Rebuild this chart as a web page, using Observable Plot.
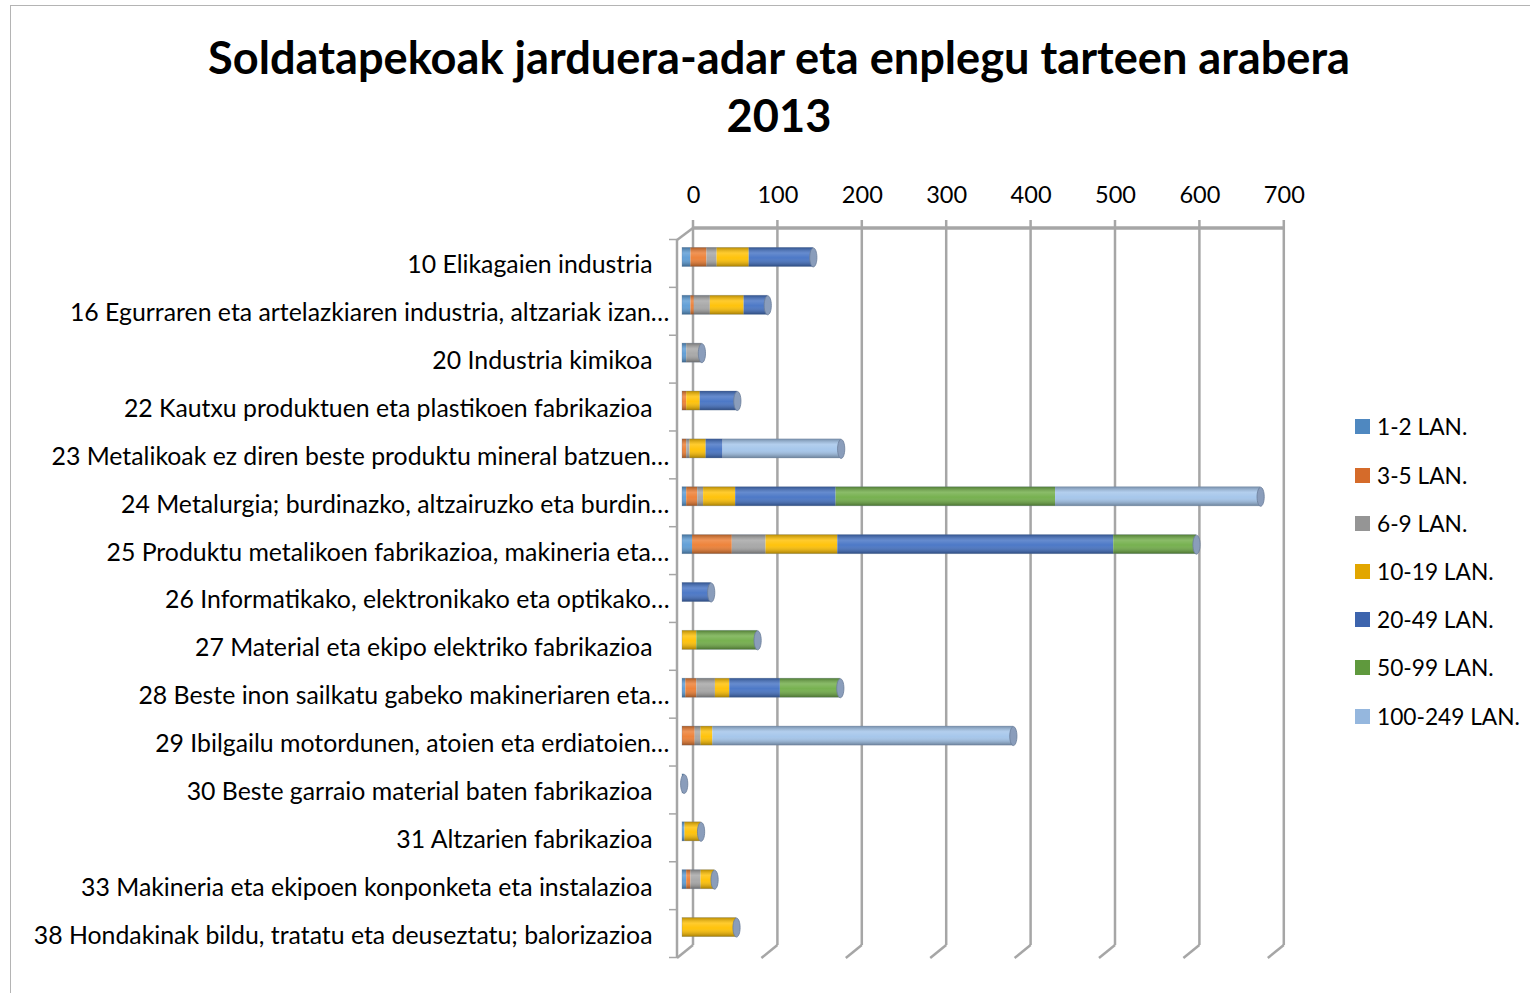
<!DOCTYPE html>
<html>
<head>
<meta charset="utf-8">
<script src="https://cdn.jsdelivr.net/npm/d3@7"></script>
<script src="https://cdn.jsdelivr.net/npm/@observablehq/plot@0.6"></script>
<style>
  html, body { margin: 0; padding: 0; background: #fff; }
  #wrap { position: relative; width: 1530px; height: 993px; overflow: hidden; font-family: Lato, "Open Sans", sans-serif; }
  #border { position: absolute; left: 10px; top: 5px; width: 1600px; height: 1100px; border: 1px solid #b4b4b4; box-sizing: border-box; }
  .title { position: absolute; left: 779px; transform: translateX(-50%); white-space: nowrap; font-weight: 700; color: #000; line-height: 1; }
  #chart { position: absolute; left: 0; top: 170px; }
  #legend { position: absolute; left: 1355px; top: 0; }
  .li { position: absolute; left: 0; white-space: nowrap; display: flex; align-items: center; color: #000; }
  .sw { width: 15px; height: 15px; margin-right: 7px; flex: none; }
</style>
</head>
<body>
<svg width="0" height="0" style="position:absolute">
  <defs>
    <linearGradient id="cyl" x1="0" y1="0" x2="0" y2="1">
      <stop offset="0" stop-color="#000" stop-opacity="0.28"/>
      <stop offset="0.3" stop-color="#fff" stop-opacity="0.18"/>
      <stop offset="0.55" stop-color="#fff" stop-opacity="0.05"/>
      <stop offset="1" stop-color="#000" stop-opacity="0.35"/>
    </linearGradient>
  </defs>
</svg>
<div id="wrap">
  <div id="border"></div>
  <div class="title" id="t1">Soldatapekoak jarduera-adar eta enplegu tarteen arabera</div>
  <div class="title" id="t2">2013</div>
  <div id="chart"></div>
  <div id="legend"></div>
</div>
<script>
// ---- data ----
const categories = [
  "10 Elikagaien industria",
  "16 Egurraren eta artelazkiaren industria, altzariak izan…",
  "20 Industria kimikoa",
  "22 Kautxu produktuen eta plastikoen fabrikazioa",
  "23 Metalikoak ez diren beste produktu mineral batzuen…",
  "24 Metalurgia; burdinazko, altzairuzko eta burdin…",
  "25 Produktu metalikoen fabrikazioa, makineria eta…",
  "26 Informatikako, elektronikako eta optikako…",
  "27 Material eta ekipo elektriko fabrikazioa",
  "28 Beste inon sailkatu gabeko makineriaren eta…",
  "29 Ibilgailu motordunen, atoien eta erdiatoien…",
  "30 Beste garraio material baten fabrikazioa",
  "31 Altzarien fabrikazioa",
  "33 Makineria eta ekipoen konponketa eta instalazioa",
  "38 Hondakinak bildu, tratatu eta deuseztatu; balorizazioa"
];
const series = ["1-2 LAN.", "3-5 LAN.", "6-9 LAN.", "10-19 LAN.", "20-49 LAN.", "50-99 LAN.", "100-249 LAN."];
const lan1_2    = [10, 10, 5, 0, 0, 5, 12, 0, 0, 4, 0, 2, 3, 5, 0];
const lan3_5    = [19, 4, 0, 5, 5, 13, 47, 0, 0, 13, 15, 0, 0, 5, 0];
const lan6_9    = [12, 19, 18, 0, 4, 7, 40, 0, 0, 22, 7, 0, 0, 12, 0];
const lan10_19  = [38, 40, 0, 16, 19, 38, 85, 0, 17, 17, 14, 0, 19, 16, 64];
const lan20_49  = [76, 28, 0, 44, 20, 119, 327, 34, 0, 60, 0, 0, 0, 0, 0];
const lan50_99  = [0, 0, 0, 0, 0, 260, 98, 0, 72, 71, 0, 0, 0, 0, 0];
const lan100_249= [0, 0, 0, 0, 140, 243, 0, 0, 0, 0, 356, 0, 0, 0, 0];
const xTicks = [0, 100, 200, 300, 400, 500, 600, 700];

const barColors    = ["#5b9bd5", "#ed7d31", "#a5a5a5", "#ffc000", "#4472c4", "#70ad47", "#a2c4ea"];
const legendColors = ["#4f88c0", "#d56b2a", "#959595", "#e2a600", "#3d64ad", "#5f993d", "#95b7de"];

// ---- build table ----
const seriesValues = [lan1_2, lan3_5, lan6_9, lan10_19, lan20_49, lan50_99, lan100_249];
const rows = [];
categories.forEach((c, i) => series.forEach((s, j) => rows.push({cat: c, series: s, value: seriesValues[j][i]})));
const totals = categories.map((c, i) => ({cat: c, total: d3.sum(seriesValues, v => v[i])}));

// ---- font fitting ----
const FONT = "Lato";
const ctx = document.createElement("canvas").getContext("2d");
function fit(text, weight, target) { ctx.font = `${weight} 100px ${FONT}`; return 100 * target / ctx.measureText(text).width; }
const fsLabel = fit(categories[14], 400, 619);
const fsTitle = fit("Soldatapekoak jarduera-adar eta enplegu tarteen arabera", 700, 1143);
const fsLegend = fit("100-249 LAN.", 400, 143);
const fsTick = fit("700", 400, 41);

const t1 = document.getElementById("t1"), t2 = document.getElementById("t2");
t1.style.fontSize = fsTitle + "px"; t2.style.fontSize = fsTitle + "px";
t1.style.top = (57 - fsTitle / 2) + "px"; t2.style.top = (115 - fsTitle / 2) + "px";

// elliptical cap symbol for cylinder ends
const capSymbol = {
  draw(context, size) {
    const rx = 3.6, ry = 9.5, k = 0.5523;
    context.moveTo(rx, 0);
    context.bezierCurveTo(rx, ry * k, rx * k, ry, 0, ry);
    context.bezierCurveTo(-rx * k, ry, -rx, ry * k, -rx, 0);
    context.bezierCurveTo(-rx, -ry * k, -rx * k, -ry, 0, -ry);
    context.bezierCurveTo(rx * k, -ry, rx, -ry * k, rx, 0);
    context.closePath();
  }
};

// ---- plot ----
const W = 1530, H = 800, ML = 682, MR = 1530 - 1272.8, MT = 71, MB = 11;
const inset = 14.4, barDy = -8;
const isTrunc = d => d.endsWith("…");
const plot = Plot.plot({
  width: W, height: H,
  marginLeft: ML, marginRight: MR, marginTop: MT, marginBottom: MB,
  x: {domain: [0, 700], axis: null},
  y: {domain: categories, axis: null, padding: 0, round: false},
  color: {domain: series, range: barColors},
  style: {fontFamily: FONT, background: "transparent", overflow: "visible", color: "#000"},
  marks: [
    Plot.text(xTicks, {x: d => d, text: d => String(d), frameAnchor: "top", lineAnchor: "middle", dy: -46, dx: 11, fontSize: fsTick, fill: "#000"}),
    Plot.text(categories.filter(d => !isTrunc(d)), {y: d => d, text: d => d, frameAnchor: "left", lineAnchor: "middle", textAnchor: "end", dx: -30, fontSize: fsLabel, fill: "#000"}),
    Plot.text(categories.filter(isTrunc), {y: d => d, text: d => d, frameAnchor: "left", lineAnchor: "middle", textAnchor: "end", dx: -13, fontSize: fsLabel, fill: "#000"}),
    Plot.barX(rows, Plot.stackX({y: "cat", x: "value", fill: "series", insetTop: inset, insetBottom: inset, dy: barDy})),
    Plot.barX(totals, {y: "cat", x: "total", fill: "url(#cyl)", stroke: "#6d7f99", strokeOpacity: 0.35, strokeWidth: 0.8, insetTop: inset, insetBottom: inset, dy: barDy}),
    Plot.dot(totals, {y: "cat", x: "total", symbol: capSymbol, r: 5, fill: "#8a9dbb", stroke: "#6b7d99", strokeWidth: 0.8, dy: barDy})
  ]
});

// ---- 3D frame decorations, positioned through Plot's own scales ----
const xs = plot.scale("x"), ys = plot.scale("y");
const X = v => xs.apply(v);
const svg = d3.select(plot);
const deco = svg.insert("g", ":first-child").attr("stroke", "#a6a6a6").attr("fill", "none");
const backTop = 58, backTickTop = 50, backBottom = 775, frontBottom = 788, frontTop = 70, depth = 16, back = 11;
xTicks.forEach(v => {
  deco.append("line").attr("x1", X(v) + back).attr("x2", X(v) + back).attr("y1", backTickTop).attr("y2", backBottom).attr("stroke-width", 2.5);
  deco.append("line").attr("x1", X(v) + back).attr("x2", X(v) + back - depth).attr("y1", backBottom).attr("y2", frontBottom).attr("stroke-width", 2.5);
});
deco.append("line").attr("x1", X(0) + back).attr("x2", X(700) + back).attr("y1", backTop).attr("y2", backTop).attr("stroke-width", 3.5);
deco.append("line").attr("x1", X(0) + back - depth).attr("x2", X(0) + back).attr("y1", frontTop).attr("y2", backTop).attr("stroke-width", 2.5);
deco.append("line").attr("x1", X(0) + back - depth).attr("x2", X(0) + back - depth).attr("y1", frontTop).attr("y2", frontBottom).attr("stroke-width", 2.5);
const bw = ys.bandwidth;
const bounds = categories.map(c => ys.apply(c)).concat([ys.apply(categories[categories.length - 1]) + bw]);
bounds.forEach(y => {
  deco.append("line").attr("x1", X(0) + back - depth - 8).attr("x2", X(0) + back - depth).attr("y1", y - 1.5).attr("y2", y - 1.5).attr("stroke-width", 1.5);
});

document.getElementById("chart").appendChild(plot);

// ---- legend ----
const legend = document.getElementById("legend");
series.forEach((s, i) => {
  const el = document.createElement("div");
  el.className = "li";
  el.style.fontSize = fsLegend + "px";
  el.style.top = (427 + 48.2 * i - fsLegend * 0.7) + "px";
  el.style.height = (fsLegend * 1.4) + "px";
  el.innerHTML = `<span class="sw" style="background:${legendColors[i]}"></span><span>${s}</span>`;
  legend.appendChild(el);
});
</script>
</body>
</html>
